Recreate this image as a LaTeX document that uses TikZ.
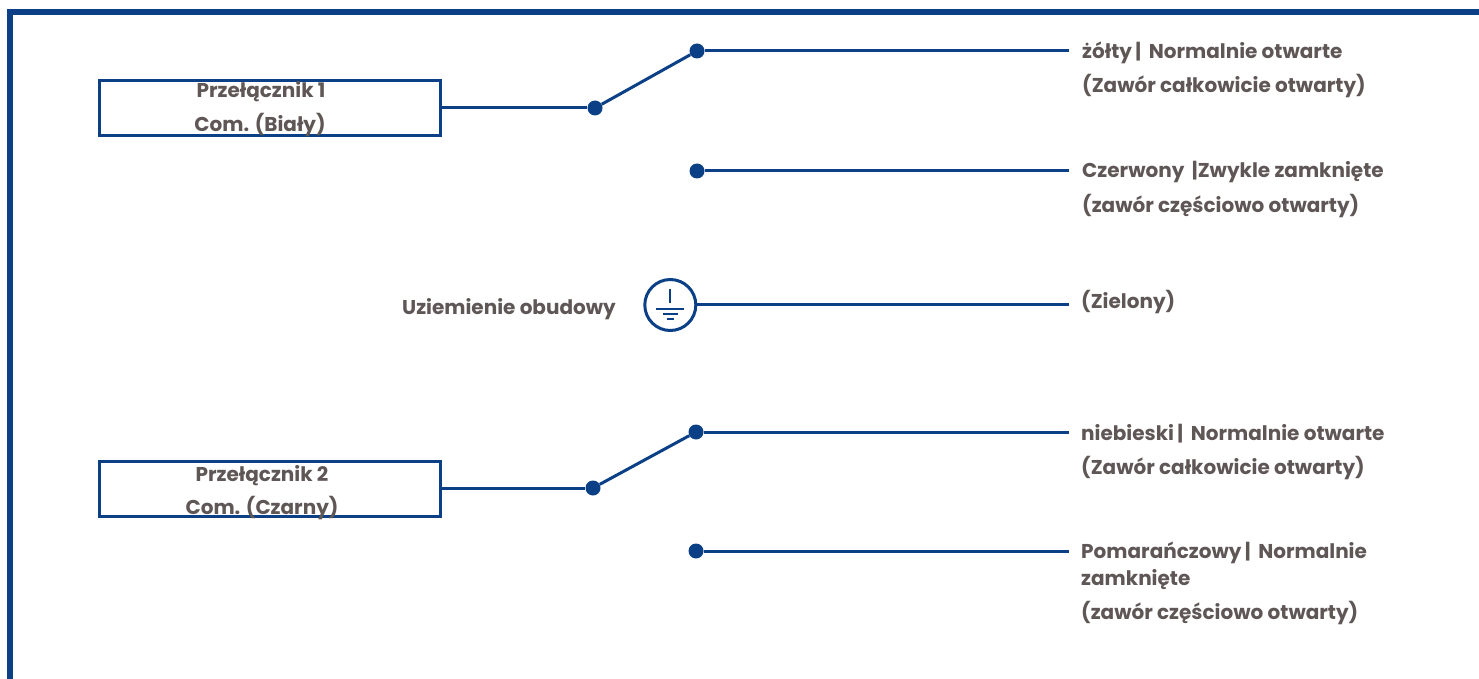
\documentclass[tikz,border=0pt]{standalone}
\usepackage{fontspec}
\setmainfont{Poppins}[BoldFont={Poppins Bold}]
\definecolor{wire}{HTML}{0B3F86}
\definecolor{txt}{HTML}{5F5756}
\tikzset{
  wireline/.style={draw=wire,line width=3pt},
  dotnode/.style={circle,fill=wire,inner sep=0pt,minimum size=15pt},
  boxnode/.style={draw=wire,line width=3pt,fill=white,minimum width=341pt,minimum height=55pt,inner sep=0pt},
  lab/.style={font=\fontsize{20}{20}\selectfont\bfseries,text=txt,inner sep=0pt,anchor=base west},
  clab/.style={font=\fontsize{20}{20}\selectfont\bfseries,text=txt,inner sep=0pt,anchor=base}
}
\begin{document}
\begin{tikzpicture}[x=1pt,y=-1pt]
\useasboundingbox (0,0) rectangle (1479,679);
\fill[white] (0,0) rectangle (1479,679);
\draw[draw=wire,line width=6pt] (9.5,679) -- (9.5,12) -- (1479,12);

% Switch 1
\node[boxnode] (b1) at (269.5,108.5) {};
\node[clab] (b1a) at (261,98) {Przełącznik 1};
\node[clab] (b1b) at (260,132) {Com. (Biały)};
\node[dotnode] (c1) at (595,108) {};
\node[dotnode] (n1) at (697,51) {};
\node[dotnode] (n2) at (697,171) {};
\coordinate (e1) at (1069,51);
\coordinate (e2) at (1069,171);
\draw[wireline] (b1.east |- c1) -- (c1);
\draw[wireline] (c1) -- (n1);
\draw[wireline] (n1) -- (e1);
\draw[wireline] (n2) -- (e2);
\node[lab] (t1) at (1082,59) {żółty\,|\, Normalnie otwarte};
\node[lab] (t1b) at (1082,93) {(Zawór całkowicie otwarty)};
\node[lab] (t2) at (1082,178) {Czerwony \,|Zwykle zamknięte};
\node[lab] (t2b) at (1082,212) {(zawór częściowo otwarty)};

% Ground
\node[clab] (g) at (509,314.5) {Uziemienie obudowy};
\node[circle,draw=wire,line width=3pt,minimum size=51pt,inner sep=0pt] (gc) at (670.3,305) {};
\coordinate (e3) at (1069,304);
\draw[wireline] (gc.east |- e3) -- (e3);
\draw[draw=wire,line width=2pt] (670,289) -- (670,303);
\draw[draw=wire,line width=2pt] (656,308.5) -- (684,308.5);
\draw[draw=wire,line width=2pt] (663,314) -- (678,314);
\draw[draw=wire,line width=2pt] (667,319) -- (674,319);
\node[lab] (t3) at (1081,308.5) {(Zielony)};

% Switch 2
\node[boxnode] (b2) at (269.5,488.5) {};
\node[clab] (b2a) at (262,481) {Przełącznik 2};
\node[clab] (b2b) at (262,514) {Com. (Czarny)};
\node[dotnode] (c2) at (593,488) {};
\node[dotnode] (n3) at (696,432) {};
\node[dotnode] (n4) at (696,551) {};
\coordinate (e4) at (1069,432);
\coordinate (e5) at (1069,551);
\draw[wireline] (b2.east |- c2) -- (c2);
\draw[wireline] (c2) -- (n3);
\draw[wireline] (n3) -- (e4);
\draw[wireline] (n4) -- (e5);
\node[lab] (t4) at (1081,440) {niebieski\,|\, Normalnie otwarte};
\node[lab] (t4b) at (1081,474) {(Zawór całkowicie otwarty)};
\node[lab] (t5) at (1081,558) {Pomarańczowy\,|\, Normalnie};
\node[lab] (t5b) at (1081,585) {zamknięte};
\node[lab] (t5c) at (1081,619) {(zawór częściowo otwarty)};
\end{tikzpicture}
\end{document}
